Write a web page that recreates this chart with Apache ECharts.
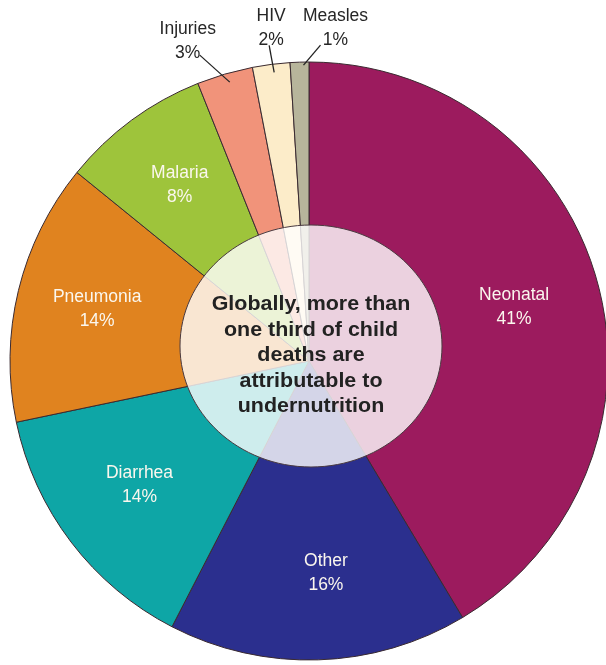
<!DOCTYPE html>
<html>
<head>
<meta charset="utf-8">
<script src="https://cdn.jsdelivr.net/npm/echarts@6/dist/echarts.min.js"></script>
<style>
  html, body { margin: 0; padding: 0; background: #fff; }
  #chart { width: 606px; height: 665px; }
</style>
</head>
<body>
<div id="chart"></div>
<script>
const causes = ['Neonatal', 'Other', 'Diarrhea', 'Pneumonia', 'Malaria', 'Injuries', 'HIV', 'Measles'];
const shares = [41, 16, 14, 14, 8, 3, 2, 1];
const sliceColors = ['#9c1b5e', '#2b2f8e', '#0ea6a6', '#e0831f', '#9ec43b', '#f1937a', '#fcecc9', '#b7b59b'];
const outsideNames = ['Injuries', 'HIV', 'Measles'];
const centerText = ['Globally, more than', 'one third of child', 'deaths are', 'attributable to', 'undernutrition'];

let chart = echarts.init(document.getElementById('chart'));

let fontFamily = '"Liberation Sans", Arial, Helvetica, sans-serif';
let pieCenter = [309, 361];

let baseData = causes.map((name, i) => ({
  name: name,
  value: shares[i],
  itemStyle: {color: sliceColors[i]}
}));

let labelData = causes.map((name, i) => {
  let d = {name: name, value: shares[i]};
  if (outsideNames.indexOf(name) >= 0) {
    d.label = {position: 'outside', color: '#262626'};
    d.labelLine = {show: true};
  }
  return d;
});

// small hand nudges, relative to where the library puts each label
// text: offset of the text centre from the arc point, line: start/end offsets
let outerShift = {
  Injuries: {text: [-37, -33], line: [[5, 8], [-25, -19]]},
  HIV: {text: [0, -36], line: [[3, 8], [-2, -19]]},
  Measles: {text: [36, -34], line: [[4, 3], [21, -17]]}
};
let innerShift = {
  Neonatal: [-5, 4],
  Other: [10, -6],
  Diarrhea: [4, -8]
};

let option = {
  animation: false,
  graphic: [
    {
      type: 'ellipse',
      z: 20,
      shape: {cx: 311, cy: 346, rx: 131, ry: 121},
      style: {fill: 'rgba(255,255,255,0.8)', stroke: '#4a3a40', lineWidth: 1}
    },
    {
      type: 'text',
      z: 21,
      x: 311,
      y: 292,
      scaleX: 1.1,
      style: {
        text: centerText.join('\n'),
        font: 'bold 19.5px ' + fontFamily,
        fill: '#222',
        textAlign: 'center',
        textVerticalAlign: 'top',
        lineHeight: 25.5
      }
    }
  ],
  series: [
    {
      type: 'pie',
      silent: true,
      center: pieCenter,
      radius: [0, 299],
      startAngle: 90,
      clockwise: true,
      label: {show: false},
      labelLine: {show: false},
      itemStyle: {borderColor: '#3a2a30', borderWidth: 1},
      data: baseData
    },
    {
      type: 'pie',
      silent: true,
      center: pieCenter,
      radius: [131, 299],
      startAngle: 90,
      clockwise: true,
      z: 3,
      itemStyle: {color: 'rgba(0,0,0,0)', borderWidth: 0},
      label: {
        show: true,
        position: 'inside',
        formatter: '{b}\n{c}%',
        color: '#fbf7ee',
        fontFamily: fontFamily,
        fontSize: 17.5,
        lineHeight: 24
      },
      labelLine: {
        length: 14,
        length2: 0,
        lineStyle: {color: '#222', width: 1.3}
      },
      labelLayout: params => {
        let name = causes[params.dataIndex];
        let s = outerShift[name];
        if (s && params.labelLinePoints) {
          let p = params.labelLinePoints[0];
          return {
            x: p[0] + s.text[0],
            y: p[1] + s.text[1],
            align: 'center',
            verticalAlign: 'middle',
            labelLinePoints: [
              [p[0] + s.line[0][0], p[1] + s.line[0][1]],
              [p[0] + s.line[1][0], p[1] + s.line[1][1]],
              [p[0] + s.line[1][0], p[1] + s.line[1][1]]
            ]
          };
        }
        let d = innerShift[name];
        if (d) return {dx: d[0], dy: d[1]};
        return {};
      },
      data: labelData
    }
  ]
};

chart.setOption(option);
</script>
</body>
</html>
